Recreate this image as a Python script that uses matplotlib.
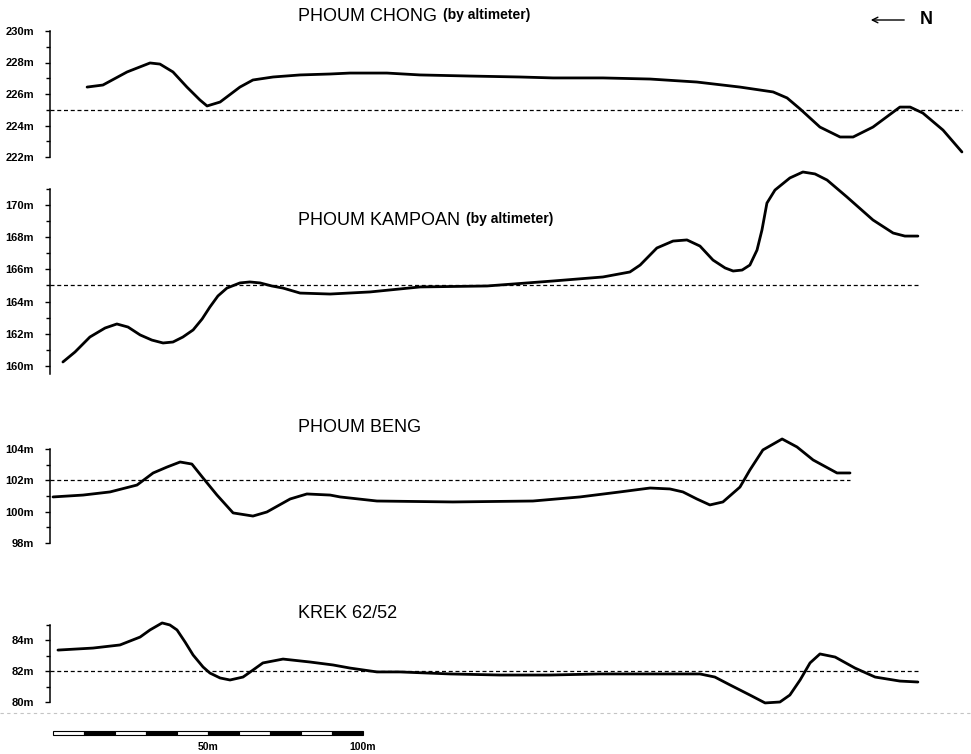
import matplotlib
matplotlib.use("Agg")
import matplotlib.pyplot as plt
from matplotlib.lines import Line2D

plt.rcParams['font.family'] = ['Liberation Sans', 'DejaVu Sans']

# distance along the section (m) and altitude (m) for each village profile
chong_x = [11.0, 16.1, 23.9, 31.3, 34.5, 38.7, 43.2, 47.4, 49.7, 53.9, 60.3, 64.5, 71.0,
           79.7, 89.4, 95.8, 107.7, 118.4, 134.5, 150.6, 161.3, 177.4, 192.6, 207.7,
           221.6, 232.3, 236.8, 241.0, 247.4, 253.9, 258.1, 264.5, 273.2, 276.5, 280.6,
           287.1, 293.2]
chong_y = [226.44, 226.57, 227.40, 227.97, 227.90, 227.40, 226.44, 225.62, 225.24, 225.49,
           226.44, 226.89, 227.08, 227.21, 227.27, 227.33, 227.33, 227.21, 227.14, 227.08,
           227.02, 227.02, 226.95, 226.76, 226.44, 226.13, 225.75, 225.05, 223.90, 223.27,
           223.27, 223.90, 225.17, 225.17, 224.79, 223.71, 222.32]

kampoan_x = [3.2, 7.1, 11.9, 16.8, 20.6, 24.2, 28.1, 31.9, 35.5, 38.7, 41.9, 45.2, 48.1,
             50.6, 53.2, 56.1, 60.3, 63.5, 66.8, 70.6, 74.2, 79.7, 89.4, 102.3, 118.4,
             140.0, 161.3, 177.4, 186.1, 189.4, 194.8, 200.0, 204.5, 208.7, 212.9, 216.8,
             219.4, 222.3, 224.8, 227.1, 228.7, 230.3, 232.9, 237.7, 241.9, 245.8, 249.7,
             256.1, 264.5, 271.0, 274.8, 279.0]
kampoan_y = [160.25, 160.87, 161.80, 162.36, 162.61, 162.42, 161.93, 161.61, 161.43, 161.49,
             161.80, 162.24, 162.92, 163.66, 164.35, 164.84, 165.16, 165.22, 165.16, 164.97,
             164.84, 164.53, 164.47, 164.60, 164.91, 164.97, 165.28, 165.53, 165.84, 166.27,
             167.33, 167.76, 167.83, 167.45, 166.58, 166.09, 165.90, 165.96, 166.27, 167.20,
             168.45, 170.12, 170.93, 171.68, 172.05, 171.93, 171.55, 170.50, 169.07, 168.26,
             168.07, 168.07]

beng_x = [0.0, 9.7, 18.4, 27.1, 32.3, 36.8, 41.0, 44.8, 48.4, 52.9, 58.1, 64.5, 69.0, 76.5,
          81.9, 89.4, 92.6, 104.5, 129.0, 154.8, 170.0, 182.9, 192.6, 199.0, 203.2, 207.7,
          211.9, 216.1, 221.6, 224.8, 229.0, 235.2, 240.0, 245.2, 252.9, 257.1]
beng_y = [100.94, 101.06, 101.26, 101.70, 102.47, 102.85, 103.17, 103.04, 102.15, 101.06,
          99.92, 99.72, 99.98, 100.81, 101.13, 101.06, 100.94, 100.68, 100.62, 100.68,
          100.94, 101.26, 101.51, 101.45, 101.26, 100.81, 100.43, 100.62, 101.57, 102.66,
          103.94, 104.64, 104.13, 103.30, 102.47, 102.47]

krek_x = [1.6, 12.9, 21.6, 28.1, 31.3, 35.2, 37.7, 40.0, 42.6, 45.2, 48.4, 50.6, 53.9, 57.1,
          61.3, 64.5, 67.7, 74.2, 82.9, 90.3, 95.8, 104.5, 111.9, 128.1, 144.2, 160.3,
          176.5, 192.6, 208.7, 213.5, 218.4, 224.8, 229.7, 234.5, 237.7, 241.0, 244.2,
          247.4, 252.3, 258.7, 265.2, 273.2, 279.0]
krek_y = [83.35, 83.48, 83.68, 84.19, 84.65, 85.10, 84.97, 84.65, 83.87, 83.03, 82.26, 81.87,
          81.55, 81.42, 81.61, 82.06, 82.52, 82.77, 82.58, 82.39, 82.19, 81.94, 81.94, 81.81,
          81.74, 81.74, 81.81, 81.81, 81.81, 81.61, 81.10, 80.45, 79.94, 80.00, 80.45, 81.42,
          82.52, 83.10, 82.90, 82.19, 81.61, 81.35, 81.29]

titles = ['PHOUM CHONG', 'PHOUM KAMPOAN', 'PHOUM BENG', 'KREK 62/52']
subtitles = ['(by altimeter)', '(by altimeter)', '', '']
reference_levels = [225, 165, 102, 82]
axis_ranges = [(222, 230), (159.5, 171), (98, 104), (80, 85)]
major_ticks = [[222, 224, 226, 228, 230], [160, 162, 164, 166, 168, 170],
               [98, 100, 102, 104], [80, 82, 84]]

scale_marks = [0, 10, 20, 30, 40, 50, 60, 70, 80, 90]
scale_labels = {50: '50m', 100: '100m'}

W, H = 971, 754
fig = plt.figure(figsize=(W / 100, H / 100), dpi=100)

# pixel x of 0 m and px per metre, used for the shared horizontal axis
x0_px, px_per_m = 53, 3.1
xlim = ((50 - x0_px) / px_per_m, (W - x0_px) / px_per_m)

# layout per panel: axes top/bottom in px, two calibration points (value, px), title baseline
layout = [
    dict(top=12, bottom=168, cal=((230, 31), (222, 157)), title_y=21),
    dict(top=165, bottom=392, cal=((170, 205), (160, 366)), title_y=225),
    dict(top=430, bottom=560, cal=((104, 449), (98, 543)), title_y=432),
    dict(top=600, bottom=712, cal=((84, 640), (80, 702)), title_y=618),
]

series = [(chong_x, chong_y), (kampoan_x, kampoan_y), (beng_x, beng_y), (krek_x, krek_y)]

for i, (xs, ys) in enumerate(series):
    lay = layout[i]
    (v1, p1), (v2, p2) = lay['cal']
    per_px = (v1 - v2) / (p2 - p1)
    ax = fig.add_axes([50 / W, 1 - lay['bottom'] / H, (W - 50) / W,
                       (lay['bottom'] - lay['top']) / H])
    ax.set_xlim(*xlim)
    ax.set_ylim(v1 - (lay['bottom'] - p1) * per_px, v1 + (p1 - lay['top']) * per_px)
    ax.patch.set_alpha(0)

    ax.plot(xs, ys, color='black', lw=2.0, solid_capstyle='round', solid_joinstyle='round')
    ax.plot([xlim[0], xs[-1]], [reference_levels[i]] * 2, color='black', lw=0.9,
            dashes=(3.2, 2.2))

    lo, hi = axis_ranges[i]
    for s in ['top', 'right', 'bottom']:
        ax.spines[s].set_visible(False)
    ax.spines['left'].set_bounds(lo, hi)
    ax.spines['left'].set_linewidth(1.1)
    major = major_ticks[i]
    ax.set_yticks(major)
    ax.set_yticks(list(range(int(round(lo + 0.49)), int(hi) + 1)), minor=True)
    ax.set_yticklabels([f'{v}m' for v in major], fontsize=8, fontweight='bold')
    ax.tick_params(axis='y', which='major', length=3.5, width=1, pad=8)
    ax.tick_params(axis='y', which='minor', length=3, width=1)
    ax.set_xticks([])

    t = fig.text(298 / W, 1 - lay['title_y'] / H, titles[i], fontsize=13,
                 ha='left', va='baseline')
    if subtitles[i]:
        ax.annotate(subtitles[i], xy=(1, 0), xycoords=t, xytext=(4, 2.0),
                    textcoords='offset points', fontsize=10, fontweight='bold',
                    ha='left', va='bottom')

# north arrow
fig.axes[0].annotate('', xy=(868 / W, 1 - 20 / H), xytext=(907 / W, 1 - 20 / H),
                     xycoords='figure fraction', textcoords='figure fraction',
                     arrowprops=dict(arrowstyle='->', lw=1.0, color='black',
                                     mutation_scale=10))
fig.text(920 / W, 1 - 20 / H, 'N', fontsize=13, fontweight='bold', ha='left', va='center')

# faint dotted scan line above the scale bar
fig.add_artist(Line2D([0, 1], [1 - 713 / H] * 2, transform=fig.transFigure,
                      color='#c4c4c4', lw=0.8, ls=(0, (3, 3))))

# scale bar
sax = fig.add_axes([50 / W, 1 - 738 / H, (W - 50) / W, 10 / H])
sax.set_xlim(*xlim)
sax.set_ylim(0, 1)
sax.axis('off')
colors = ['white' if k % 2 == 0 else 'black' for k in range(len(scale_marks))]
sax.bar(scale_marks, 0.4, width=10, bottom=0.3, align='edge', color=colors,
        edgecolor='black', linewidth=0.8)
for pos, lab in scale_labels.items():
    sax.text(pos, -0.9, lab, ha='center', va='center', fontsize=7.5, fontweight='bold')

fig.savefig('out.png', dpi=100)
